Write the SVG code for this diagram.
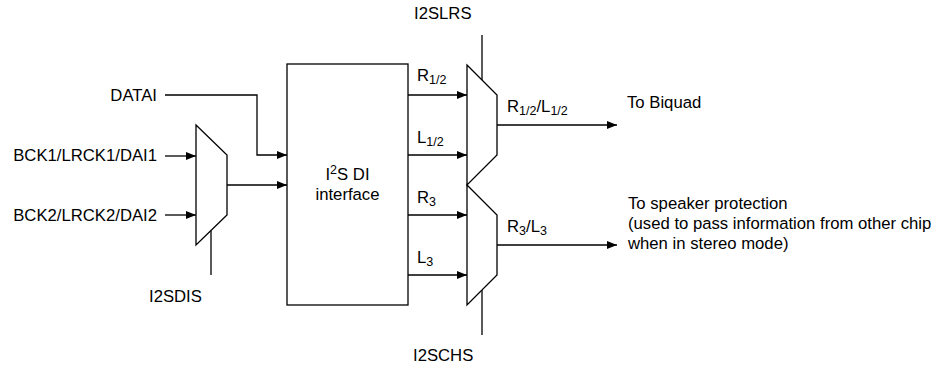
<svg xmlns="http://www.w3.org/2000/svg" width="941" height="369" viewBox="0 0 941 369">
  <style>
    .ln { fill: none; stroke: #000; stroke-width: 1.3; }
    .shape { fill: #fff; stroke: #000; stroke-width: 1.3; stroke-linejoin: miter; }
    text { font-family: "Liberation Sans", Arial, sans-serif; font-size: 16.7px; fill: #000; }
    .sub { font-size: 12.5px; }
  </style>
  <defs>
    <marker id="arr" markerWidth="10" markerHeight="8" refX="10" refY="4" orient="auto" markerUnits="userSpaceOnUse">
      <path d="M0,0 L10,4 L0,8 Z" fill="#000"/>
    </marker>
  </defs>

  <rect width="941" height="369" fill="#fff"/>

  <g id="connectors">
    <path class="ln" d="M165,95 H257 V155 H287" marker-end="url(#arr)"/>
    <path class="ln" d="M165,156 H196" marker-end="url(#arr)"/>
    <path class="ln" d="M165,215 H196" marker-end="url(#arr)"/>
    <path class="ln" d="M227,185 H287" marker-end="url(#arr)"/>
    <path class="ln" d="M211,230.5 V275"/>
    <path class="ln" d="M408,95 H467" marker-end="url(#arr)"/>
    <path class="ln" d="M408,155 H467" marker-end="url(#arr)"/>
    <path class="ln" d="M408,215 H467" marker-end="url(#arr)"/>
    <path class="ln" d="M408,275 H467" marker-end="url(#arr)"/>
    <path class="ln" d="M482,35 V80"/>
    <path class="ln" d="M482,290 V335"/>
    <path class="ln" d="M497,125 H617" marker-end="url(#arr)"/>
    <path class="ln" d="M497,245 H617" marker-end="url(#arr)"/>
  </g>

  <g id="input-labels">
    <text x="157" y="101" text-anchor="end">DATAI</text>
    <text x="157" y="161" text-anchor="end">BCK1/LRCK1/DAI1</text>
    <text x="157" y="221" text-anchor="end">BCK2/LRCK2/DAI2</text>
  </g>

  <g id="mux-in">
    <polygon class="shape" points="196,125 227,155 227,215 196,245"/>
    <text x="149" y="302">I2SDIS</text>
  </g>

  <g id="i2s-di">
    <rect class="shape" x="287" y="64" width="121" height="241"/>
    <text x="347.5" y="180" text-anchor="middle">I<tspan class="sub" dy="-6">2</tspan><tspan dy="6">S DI</tspan></text>
    <text x="347.5" y="200" text-anchor="middle">interface</text>
    <text x="417" y="81">R<tspan class="sub" dy="3">1/2</tspan></text>
    <text x="417" y="143">L<tspan class="sub" dy="3">1/2</tspan></text>
    <text x="417" y="203">R<tspan class="sub" dy="3">3</tspan></text>
    <text x="417" y="263">L<tspan class="sub" dy="3">3</tspan></text>
  </g>

  <g id="mux-lr">
    <polygon class="shape" points="467,65 497,95 497,155 467,185"/>
    <text x="414" y="19">I2SLRS</text>
    <text x="507" y="112">R<tspan class="sub" dy="3">1/2</tspan><tspan dy="-3">/L</tspan><tspan class="sub" dy="3">1/2</tspan></text>
  </g>

  <g id="mux-ch">
    <polygon class="shape" points="467,185 497,215 497,275 467,305"/>
    <text x="413" y="361">I2SCHS</text>
    <text x="507" y="232">R<tspan class="sub" dy="3">3</tspan><tspan dy="-3">/L</tspan><tspan class="sub" dy="3">3</tspan></text>
  </g>

  <g id="out-biquad">
    <text x="627" y="108">To Biquad</text>
  </g>

  <g id="out-speaker">
    <text x="628" y="209">To speaker protection</text>
    <text x="628" y="229">(used to pass information from other chip</text>
    <text x="628" y="249">when in stereo mode)</text>
  </g>
</svg>
